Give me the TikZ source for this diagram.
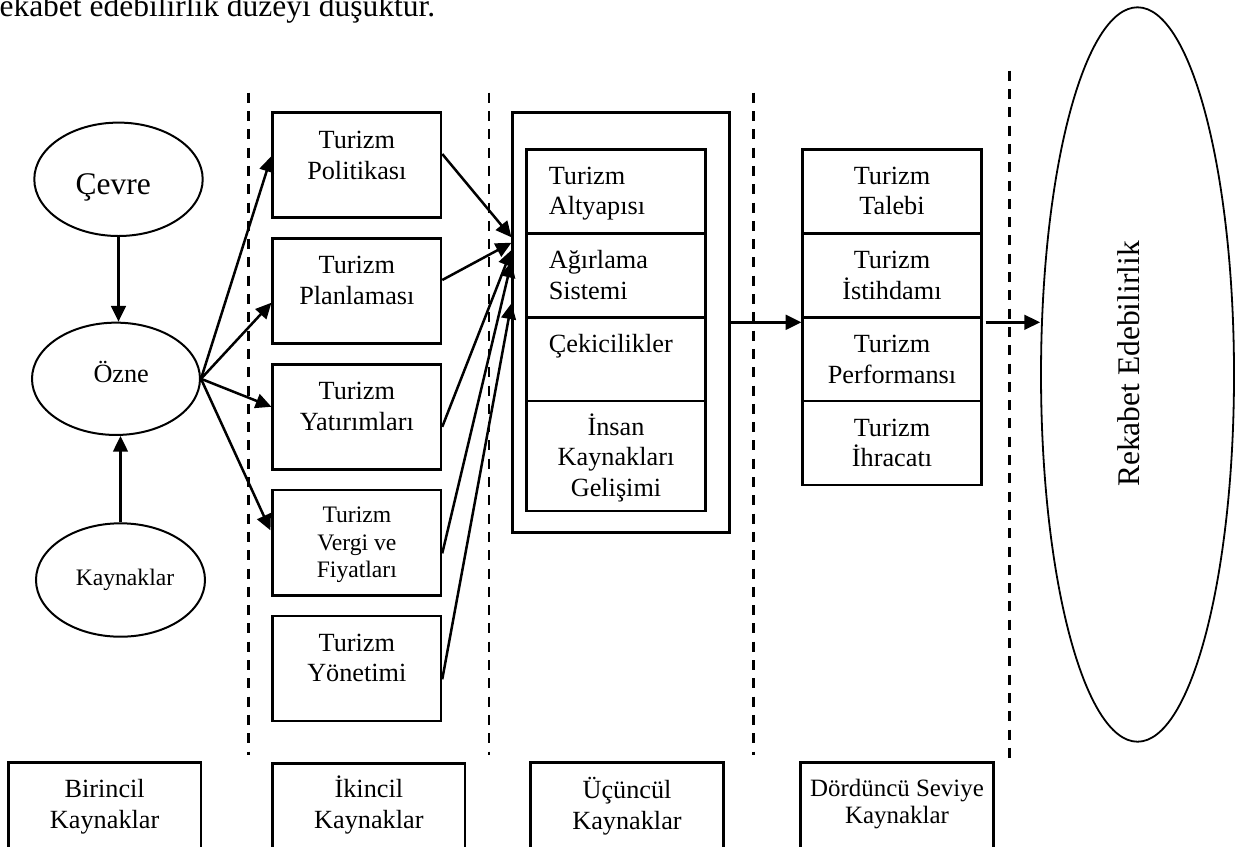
\documentclass[tikz,border=0pt]{standalone}
\usepackage{fontspec}
\setmainfont{Liberation Serif}
\usetikzlibrary{arrows.meta,shapes.geometric,calc}
\newlength\px
\setlength\px{0.38095pt}
\newcommand\stk[1]{\begin{tabular}[t]{@{}c@{}}#1\end{tabular}}
\newcommand\stl[1]{\begin{tabular}[t]{@{}l@{}}#1\end{tabular}}
\tikzset{
  ell/.style={draw, ellipse, line width=2\px, inner sep=0pt},
  box/.style={draw, rectangle, line width=2.5\px, inner sep=0pt},
  arr/.style={-{Triangle[length=6pt,width=5.6pt]}, line width=2.5\px},
  sep/.style={line width=2.6\px, dash pattern=on 10\px off 8.3\px},
  txt/.style={inner sep=0pt, font=\fontsize{10}{11.7}\selectfont},
  txtsm/.style={inner sep=0pt, font=\fontsize{9}{10.5}\selectfont},
  txtmd/.style={inner sep=0pt, font=\fontsize{9.5}{10.4}\selectfont},
  txtlg/.style={inner sep=0pt, font=\fontsize{12}{13.8}\selectfont}
}
\begin{document}
\begin{tikzpicture}[x=\px, y=-\px]
\useasboundingbox (0,0) rectangle (1242,846);
\clip (0,0) rectangle (1242,846);

% running text above the figure
\node[txtlg, anchor=base west] (head) at (-1,16) {ekabet edebilirlik düzeyi düşüktür.};

% level separators
\draw[sep] (248.3,92.7) -- (248.3,755);
\draw[sep] (489,92.7) -- (489,755);
\draw[sep] (753.3,92.7) -- (753.3,755);
\draw[sep] (1009.3,70.7) -- (1009.3,761.7);

% primary resources
\node[ell, minimum width=168.4\px, minimum height=113.4\px] (cevre) at (118.5,179.3) {};
\node[txtlg, anchor=base] (cevreT) at (113.3,194.3) {Çevre};
\node[ell, minimum width=168\px, minimum height=112.3\px] (ozne) at (116,378.8) {};
\node[txt, anchor=base] (ozneT) at (121.2,382) {Özne};
\node[ell, minimum width=169\px, minimum height=113.4\px] (kay) at (120.5,580) {};
\node[txtsm, anchor=base] (kayT) at (125,585) {Kaynaklar};

% secondary resources
\node[box, minimum width=168.3\px, minimum height=104.6\px] (pol) at (356.85,165) {};
\node[txt, anchor=base] (polT) at (356.85,148.3) {\stk{Turizm\\Politikası}};
\node[box, minimum width=168.3\px, minimum height=104.6\px] (pla) at (356.85,291) {};
\node[txt, anchor=base] (plaT) at (356.85,273.8) {\stk{Turizm\\Planlaması}};
\node[box, minimum width=168.3\px, minimum height=105\px] (yat) at (356.85,416.8) {};
\node[txt, anchor=base] (yatT) at (356.85,399.4) {\stk{Turizm\\Yatırımları}};
\node[box, minimum width=168.3\px, minimum height=105.3\px] (ver) at (356.85,542.65) {};
\node[txtsm, anchor=base] (verT) at (356.85,522.7) {\stk{Turizm\\Vergi ve\\Fiyatları}};
\node[box, minimum width=168.3\px, minimum height=105\px] (yon) at (356.85,668.5) {};
\node[txt, anchor=base] (yonT) at (356.85,651) {\stk{Turizm\\Yönetimi}};

% tertiary resources
\node[box, minimum width=216.6\px, minimum height=420\px] (c3) at (621,322.3) {};
\node[box, minimum width=178.6\px, minimum height=84\px] (alt) at (616,191.3) {};
\node[box, minimum width=178.6\px, minimum height=84\px] (agr) at (616,275.3) {};
\node[box, minimum width=178.6\px, minimum height=83.7\px] (cek) at (616,359.15) {};
\node[box, minimum width=178.6\px, minimum height=110\px] (ins) at (616,456) {};
\node[txt, anchor=base west] (altT) at (548.3,184) {\stl{Turizm\\Altyapısı}};
\node[txt, anchor=base west] (agrT) at (548.3,268.3) {\stl{Ağırlama\\Sistemi}};
\node[txt, anchor=base west] (cekT) at (548.3,352.7) {Çekicilikler};
\node[txt, anchor=base] (insT) at (616,435) {\stk{İnsan\\Kaynakları\\Gelişimi}};

% fourth level resources
\node[box, minimum width=178.6\px, minimum height=84\px] (tal) at (892,191.3) {};
\node[box, minimum width=178.6\px, minimum height=84\px] (ist) at (892,275.3) {};
\node[box, minimum width=178.6\px, minimum height=83.7\px] (per) at (892,359.15) {};
\node[box, minimum width=178.6\px, minimum height=84\px] (ihr) at (892,443) {};
\node[txt, anchor=base] (talT) at (892,184) {\stk{Turizm\\Talebi}};
\node[txt, anchor=base] (istT) at (892,268.3) {\stk{Turizm\\İstihdamı}};
\node[txt, anchor=base] (perT) at (892,352.7) {\stk{Turizm\\Performansı}};
\node[txt, anchor=base] (ihrT) at (892,436) {\stk{Turizm\\İhracatı}};

% competitiveness
\node[ell, line width=1.8\px, minimum width=193\px, minimum height=734.4\px] (rek) at (1137.5,374.5) {};
\node[txtlg, rotate=90] (rekT) at (1129,364) {Rekabet Edebilirlik};

% level captions
\node[box, minimum width=192.7\px, minimum height=150\px] (b1) at (104.65,837.7) {};
\node[txt, anchor=base] (b1T) at (104.65,797.7) {\stk{Birincil\\Kaynaklar}};
\node[box, minimum width=192.3\px, minimum height=150\px] (b2) at (368.85,838.3) {};
\node[txt, anchor=base] (b2T) at (368.85,797.7) {\stk{İkincil\\Kaynaklar}};
\node[box, minimum width=192.6\px, minimum height=150\px] (b3) at (627,837.7) {};
\node[txt, anchor=base] (b3T) at (627,798.3) {\stk{Üçüncül\\Kaynaklar}};
\node[box, minimum width=192.6\px, minimum height=150\px] (b4) at (897,837.7) {};
\node[txtmd, anchor=base] (b4T) at (897,796) {\stk{Dördüncü Seviye\\Kaynaklar}};

% connectors
\draw[arr] (cevre.south) -- (cevre.south |- ozne.north);
\draw[arr] (kay.north) -- (kay.north |- ozne.south);
\draw[arr] (ozne.east) -- ($(pol.west)+(0,-9)$);
\draw[arr] (ozne.east) -- ($(pla.west)+(0,11.7)$);
\draw[arr] (ozne.east) -- ($(yat.west)+(0,-10)$);
\draw[arr] (ozne.east) -- ($(ver.west)+(-1,-12.3)$);
\draw[arr] ($(pol.east)+(0,-11)$) -- ($(c3.west)+(0,-85)$);
\draw[arr] ($(pla.east)+(0,-11)$) -- ($(c3.west)+(0,-79.6)$);
\draw[arr] ($(yat.east)+(0,10)$) -- ($(c3.west)+(0,-72.3)$);
\draw[arr] ($(ver.east)+(0,10.7)$) -- ($(c3.west)+(0,-60.6)$);
\draw[arr] ($(yon.east)+(0,10.8)$) -- ($(c3.west)+(0,-19)$);
\draw[arr] (c3.east) -- (c3.east -| tal.west);
\draw[arr] ($(c3.east -| tal.east)+(3,0)$) -- (c3.east -| rek.west);
\end{tikzpicture}
\end{document}
